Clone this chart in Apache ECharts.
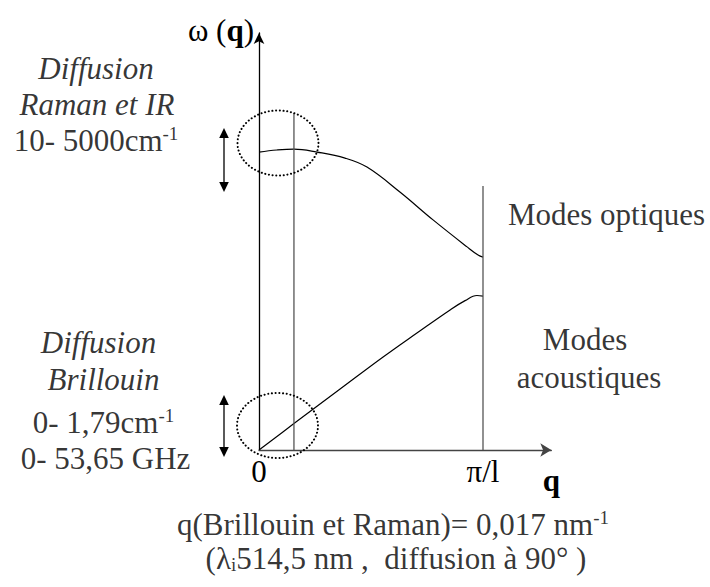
<!DOCTYPE html>
<html>
<head>
<meta charset="utf-8">
<script src="https://cdn.jsdelivr.net/npm/echarts@6/dist/echarts.min.js"></script>
<style>
html, body { margin: 0; padding: 0; background: #fff; }
#chart { width: 710px; height: 587px; }
</style>
</head>
<body>
<div id="chart"></div>
<script>
// q in units of pi/l, omega in arbitrary units
var opticalBranch = [[0, 0.993], [0.080, 1.000], [0.156, 1.003], [0.259, 0.993], [0.384, 0.973],
    [0.482, 0.943], [0.629, 0.860], [0.777, 0.767], [0.929, 0.677], [0.978, 0.650], [1.0, 0.643]];
var acousticBranch = [[0, 0], [0.156, 0.088], [0.362, 0.203], [0.554, 0.310], [0.705, 0.390],
    [0.853, 0.467], [0.920, 0.498], [0.973, 0.515], [1.0, 0.513]];
var qBrillouinLine = [[0.156, 0], [0.156, 1.123]];
var zoneEdgeLine = [[1, 0], [1, 0.88]];
var tickValues = [0, 1];
var tickLabels = ['0', 'π/l'];

var FONT = 'Liberation Serif';
var FS = 31;

// grid origin at (259, 450), 224 px per q unit, 300 px per omega unit
var X0 = 259, Y0 = 450, KX = 224, KY = 300;

function tok(size, extra) {
    var s = { fontSize: size, fontFamily: FONT, color: '#000' };
    for (var k in extra) s[k] = extra[k];
    return s;
}
var rich = {
    r: tok(FS, { lineHeight: 32 }),
    i: tok(FS, { fontStyle: 'italic', lineHeight: 32 }),
    b: tok(FS, { fontWeight: 'bold', lineHeight: 32 }),
    sup: tok(19, { lineHeight: 20, verticalAlign: 'top' }),
    sub: tok(19, { lineHeight: 12, verticalAlign: 'bottom' })
};

// annotation: x = centre, baseline in pixels, turned into data space
function note(x, baseline, text) {
    var y = baseline - 10.7;
    return { value: [(x - X0) / KX, (Y0 - y) / KY], label: { formatter: text } };
}

var notes = [
    note(96, 79, '{i|Diffusion}'),
    note(97, 115, '{i|Raman et IR}'),
    note(96, 151, '{r|10- 5000cm}{sup|-1}'),
    note(98.5, 353, '{i|Diffusion}'),
    note(103.5, 390, '{i|Brillouin}'),
    note(103.5, 433, '{r|0- 1,79cm}{sup|-1}'),
    note(105.5, 469, '{r|0- 53,65 GHz}'),
    note(606.5, 225, '{r|Modes optiques}'),
    note(585, 350, '{r|Modes}'),
    note(589, 388, '{r|acoustiques}'),
    note(393, 535, '{r|q(Brillouin et Raman)= 0,017 nm}{sup|-1}'),
    note(396, 569, '{r|(λ}{sub|i}{r|514,5 nm ,  diffusion à 90° )}')
];

function doubleArrow(x, top, bottom) {
    return {
        type: 'group',
        children: [
            { type: 'line', shape: { x1: x, y1: top + 8, x2: x, y2: bottom - 8 }, style: { stroke: '#000', lineWidth: 1.3 } },
            { type: 'polygon', shape: { points: [[x, top], [x - 4.8, top + 10], [x + 4.8, top + 10]] }, style: { fill: '#000' } },
            { type: 'polygon', shape: { points: [[x, bottom], [x - 4.8, bottom - 10], [x + 4.8, bottom - 10]] }, style: { fill: '#000' } }
        ]
    };
}

function dottedEllipse(cx, cy) {
    return {
        type: 'ellipse',
        shape: { cx: cx, cy: cy, rx: 40.5, ry: 32.5 },
        style: { fill: 'none', stroke: '#000', lineWidth: 2, lineDash: [0.1, 3.6], lineCap: 'round' },
        z: 10
    };
}

var chart = echarts.init(document.getElementById('chart'), null, { renderer: 'svg' });

var option = {
    animation: false,
    textStyle: { fontFamily: FONT },
    grid: { left: X0, right: 710 - X0 - 1.305 * KX, top: Y0 - 1.39 * KY, bottom: 587 - Y0 },
    xAxis: {
        type: 'value',
        min: 0,
        max: 1.305,
        splitLine: { show: false },
        axisTick: { show: false },
        axisLine: {
            show: true,
            onZero: true,
            symbol: ['none', 'arrow'],
            symbolSize: [10, 11],
            lineStyle: { color: '#444', width: 1.3 }
        },
        axisLabel: {
            customValues: tickValues,
            formatter: function (v) {
                return tickLabels[tickValues.indexOf(v)];
            },
            fontSize: FS,
            fontFamily: FONT,
            color: '#000',
            margin: 6
        },
        name: 'q',
        nameLocation: 'end',
        nameGap: 0,
        nameTextStyle: {
            fontSize: FS,
            fontFamily: FONT,
            fontWeight: 'bold',
            color: '#000',
            align: 'center',
            verticalAlign: 'top',
            padding: [15, 0, 0, 0]
        }
    },
    yAxis: {
        type: 'value',
        min: 0,
        max: 1.39,
        splitLine: { show: false },
        axisTick: { show: false },
        axisLabel: { show: false },
        axisLine: {
            show: true,
            symbol: ['none', 'arrow'],
            symbolSize: [8, 11],
            lineStyle: { color: '#000', width: 1.3 }
        },
        name: '{r|ω (}{b|q}{r|)}',
        nameLocation: 'end',
        nameGap: 3,
        nameTextStyle: {
            align: 'right',
            verticalAlign: 'middle',
            padding: [0, 5, 0, 0],
            fontFamily: FONT,
            fontSize: FS,
            rich: rich
        }
    },
    series: [
        { name: 'Modes optiques', type: 'line', data: opticalBranch, smooth: 0.4, showSymbol: false,
          lineStyle: { color: '#000', width: 1.2 } },
        { name: 'Modes acoustiques', type: 'line', data: acousticBranch, smooth: 0.4, showSymbol: false,
          lineStyle: { color: '#000', width: 1.2 } },
        { type: 'line', data: qBrillouinLine, showSymbol: false, lineStyle: { color: '#555', width: 1.3 } },
        { type: 'line', data: zoneEdgeLine, showSymbol: false, lineStyle: { color: '#555', width: 1.3 } },
        {
            type: 'scatter',
            data: notes,
            symbolSize: 0,
            clip: false,
            silent: true,
            label: {
                show: true,
                position: 'inside',
                align: 'center',
                verticalAlign: 'middle',
                color: '#000',
                fontFamily: FONT,
                fontSize: FS,
                rich: rich
            }
        }
    ],
    graphic: [
        doubleArrow(224, 128, 192),
        doubleArrow(224, 395, 457),
        dottedEllipse(278, 143),
        dottedEllipse(277.5, 425.5)
    ]
};

chart.setOption(option);
</script>
</body>
</html>
